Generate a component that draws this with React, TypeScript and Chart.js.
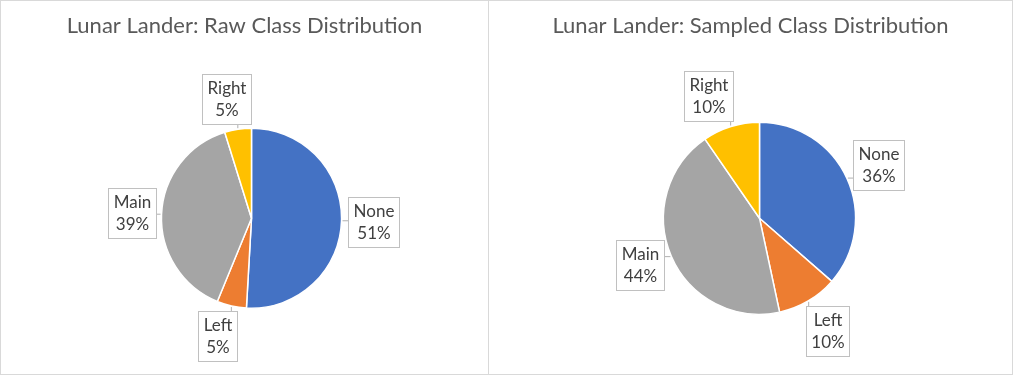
import React, { useEffect, useRef } from "react";
import { Chart, registerables } from "chart.js";

Chart.register(...registerables);

// ---------- data ----------
const CLASSES = ["None", "Left", "Main", "Right"];
const RAW_SHARE = [50.9, 5.3, 39.0, 4.8];
const SAMPLED_SHARE = [36.4, 10.2, 43.7, 9.6];
const SLICE_COLORS = ["#4472C4", "#ED7D31", "#A5A5A5", "#FFC000"];
const RAW_TITLE = "Lunar Lander: Raw Class Distribution";
const SAMPLED_TITLE = "Lunar Lander: Sampled Class Distribution";

const FONT = "Lato, 'Open Sans', sans-serif";

// draws Excel-like callout labels (category + percent) with leader lines
const calloutPlugin = {
  id: "callouts",
  afterDatasetsDraw(chart: any, _args: any, opts: any) {
    const ctx = chart.ctx as CanvasRenderingContext2D;
    const meta = chart.getDatasetMeta(0);
    const values = chart.data.datasets[0].data as number[];
    const total = values.reduce((a, b) => a + b, 0);
    const labels = chart.data.labels as string[];
    ctx.save();
    ctx.font = `${opts.fontSize}px ${FONT}`;
    meta.data.forEach((arc: any, i: number) => {
      const { x, y, startAngle, endAngle, outerRadius } = arc.getProps(
        ["x", "y", "startAngle", "endAngle", "outerRadius"],
        true
      );
      const mid = (startAngle + endAngle) / 2;
      const dx = Math.cos(mid);
      const dy = Math.sin(mid);
      const line1 = labels[i];
      const line2 = Math.round((values[i] / total) * 100) + "%";
      const tw = Math.max(ctx.measureText(line1).width, ctx.measureText(line2).width);
      const w = Math.round(tw + 2 * opts.padX);
      const h = Math.round(2 * opts.lineHeight + 2 * opts.padY);
      const hw = w / 2;
      const hh = h / 2;
      const bx = Math.abs(dx) > 1e-6 ? hw / Math.abs(dx) : Infinity;
      const by = Math.abs(dy) > 1e-6 ? hh / Math.abs(dy) : Infinity;
      const bd = Math.min(bx, by);
      const nudge = (opts.nudges && opts.nudges[i]) || [0, 0];
      const dist = outerRadius + opts.gap + bd;
      const cx = x + dx * dist + nudge[0];
      const cy = y + dy * dist + nudge[1];
      const left = Math.round(cx - hw) + 0.5;
      const top = Math.round(cy - hh) + 0.5;
      // leader line
      const ex = x + dx * (outerRadius + 1);
      const ey = y + dy * (outerRadius + 1);
      const nx = Math.max(left, Math.min(ex, left + w));
      const ny = Math.max(top, Math.min(ey, top + h));
      ctx.strokeStyle = opts.leaderColor;
      ctx.lineWidth = 1;
      ctx.beginPath();
      ctx.moveTo(ex, ey);
      ctx.lineTo(nx, ny);
      ctx.stroke();
      // box
      ctx.fillStyle = "#ffffff";
      ctx.fillRect(left, top, w, h);
      ctx.strokeStyle = opts.boxColor;
      ctx.strokeRect(left, top, w, h);
      // text
      ctx.fillStyle = opts.color;
      ctx.textAlign = "center";
      ctx.textBaseline = "middle";
      const tx = left + w / 2;
      ctx.fillText(line1, tx, top + opts.padY + opts.lineHeight / 2);
      ctx.fillText(line2, tx, top + opts.padY + opts.lineHeight * 1.5);
    });
    ctx.restore();
  },
};

// moves the pie horizontally inside the plot area without moving the title
const pieShiftPlugin = {
  id: "pieShift",
  afterLayout(chart: any, _args: any, opts: any) {
    const d = opts.dx || 0;
    chart.chartArea.left += d;
    chart.chartArea.right += d;
  },
};

type PieProps = {
  width: number;
  height: number;
  title: string;
  values: number[];
  titleGap: number;
  bottomPad: number;
  shiftX: number;
  nudges: number[][];
};

function PiePanel(p: PieProps) {
  const ref = useRef<HTMLCanvasElement | null>(null);
  useEffect(() => {
    if (!ref.current) return;
    const chart = new Chart(ref.current, {
      type: "pie",
      data: {
        labels: CLASSES,
        datasets: [
          {
            data: p.values,
            backgroundColor: SLICE_COLORS,
            borderColor: "#ffffff",
            borderWidth: 1.5,
            clip: false as any,
          },
        ],
      },
      options: {
        responsive: false,
        animation: false,
        layout: { padding: { top: 0, bottom: p.bottomPad, left: 0, right: 0 } },
        plugins: {
          legend: { display: false },
          tooltip: { enabled: false },
          title: {
            display: true,
            text: p.title,
            color: "#595959",
            font: { family: FONT, size: 22, weight: "normal" as any, lineHeight: 1.2 },
            padding: { top: 12, bottom: p.titleGap },
          },
          pieShift: { dx: p.shiftX },
          callouts: {
            fontSize: 17,
            lineHeight: 22,
            padX: 5,
            padY: 3,
            gap: 6,
            color: "#404040",
            boxColor: "#c0c0c0",
            leaderColor: "#b0b0b0",
            nudges: p.nudges,
          },
        } as any,
      },
      plugins: [pieShiftPlugin, calloutPlugin],
    });
    return () => chart.destroy();
  }, []);
  return <canvas ref={ref} width={p.width} height={p.height} style={{ display: "block" }} />;
}

export default function App() {
  const border = "1px solid #d9d9d9";
  return (
    <div style={{ position: "fixed", left: 0, top: 0, width: 1013, height: 375, background: "#fff" }}>
      <div style={{ position: "absolute", left: 0, top: 0, width: 487, height: 373, border }}>
        <PiePanel
          width={487}
          height={373}
          title={RAW_TITLE}
          values={RAW_SHARE}
          titleGap={88}
          bottomPad={65}
          shiftX={7}
          nudges={[[0, 0], [-7, -1], [0, 0], [-7, 1]]}
        />
      </div>
      <div style={{ position: "absolute", left: 488, top: 0, width: 523, height: 373, border }}>
        <PiePanel
          width={523}
          height={373}
          title={SAMPLED_TITLE}
          values={SAMPLED_SHARE}
          titleGap={82}
          bottomPad={59}
          shiftX={9}
          nudges={[[1, 1], [2, 0], [-2, -4], [-13, 0]]}
        />
      </div>
    </div>
  );
}
